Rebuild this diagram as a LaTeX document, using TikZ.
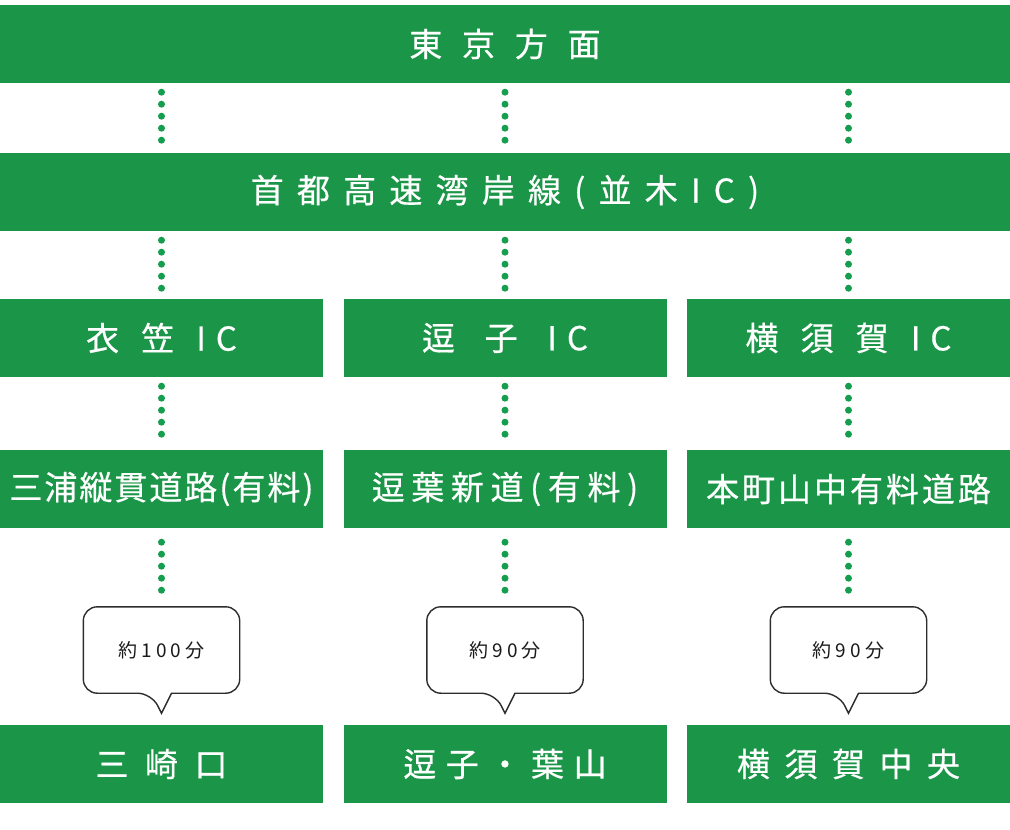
\documentclass[tikz,border=0pt]{standalone}
\usepackage{fontspec}
\setmainfont{Noto Sans CJK JP}
\usetikzlibrary{positioning}
\definecolor{roadgreen}{RGB}{27,150,72}
\definecolor{dotgreen}{RGB}{22,158,78}
\definecolor{bubbleline}{RGB}{45,45,45}
% tracked text
\newcommand{\spaced}[2]{{\addfontfeature{LetterSpace=#1}#2}}

\begin{document}
\begin{tikzpicture}[x=1pt, y=-1pt,
  bar/.style={fill=roadgreen, minimum width=1010pt, minimum height=78pt, inner sep=0pt, text=white, font=\fontsize{33}{38}\selectfont\addfontfeature{FakeBold=0.5}},
  box/.style={bar, minimum width=323pt},
  bubble/.style={minimum width=156pt, minimum height=86pt, inner sep=0pt, text=black!90, font=\fontsize{19}{22}\selectfont},
  outline/.style={draw=bubbleline, line width=1.4pt},
  dots/.style={dotgreen, line width=7pt, line cap=round, dash pattern=on 0pt off 12pt, shorten <=9pt, shorten >=9pt},
]
\useasboundingbox (0,0) rectangle (1010,830);

% through routes
\node[bar] (tokyo) at (505,44) {\spaced{60}{東京方面}};
\node[bar] (wangan) at (505,192) {\spaced{40}{首都高速湾岸線(並木IC)}};

% exits
\node[box] (kinugasa) at (161.5,338) {\spaced{67}{衣笠}\kern.67em\spaced{30}{IC}};
\node[box] (zushi) at (505,338) {\spaced{90}{逗子}\kern.9em\spaced{30}{IC}};
\node[box] (yokosuka) at (848.5,338) {\spaced{67}{横須賀}\kern.67em\spaced{30}{IC}};

% local roads
\node[box] (miura) at (161.5,489) {\spaced{6}{三浦縦貫道路(有料)}};
\node[box] (zuyo) at (505,489) {\spaced{20}{逗葉新道(有料)}};
\node[box] (honmachi) at (848.5,489) {\spaced{9}{本町山中有料道路}};

% travel times
\node[bubble] (t1) at (161.5,650) {\spaced{22}{約100分}};
\node[bubble] (t2) at (505,650) {\spaced{22}{約90分}};
\node[bubble] (t3) at (848.5,650) {\spaced{22}{約90分}};

% destinations
\node[box] (misaki) at (161.5,764) {\spaced{50}{三崎口}};
\node[box] (hayama) at (505,764) {\spaced{29}{逗子・葉山}};
\node[box] (chuo) at (848.5,764) {\spaced{44}{横須賀中央}};

\foreach \t in {t1,t2,t3}
  \draw[outline] ([xshift=10pt]\t.south) [rounded corners=14pt] -- (\t.south east) -- (\t.north east)
    -- (\t.north west) -- (\t.south west) -- ([xshift=-10pt]\t.south) [sharp corners]
    -- ([yshift=-20pt]\t.south) -- cycle;

% dotted links
\foreach \c in {kinugasa,zushi,yokosuka} {
  \draw[dots] (\c.north |- tokyo.south) -- (\c.north |- wangan.north);
  \draw[dots] (\c.north |- wangan.south) -- (\c.north);
}
\draw[dots] (kinugasa.south) -- (miura.north);
\draw[dots] (zushi.south) -- (zuyo.north);
\draw[dots] (yokosuka.south) -- (honmachi.north);
\draw[dots, shorten <=14pt, shorten >=16pt] (miura.south) -- (t1.north);
\draw[dots, shorten <=14pt, shorten >=16pt] (zuyo.south) -- (t2.north);
\draw[dots, shorten <=14pt, shorten >=16pt] (honmachi.south) -- (t3.north);

\end{tikzpicture}
\end{document}
